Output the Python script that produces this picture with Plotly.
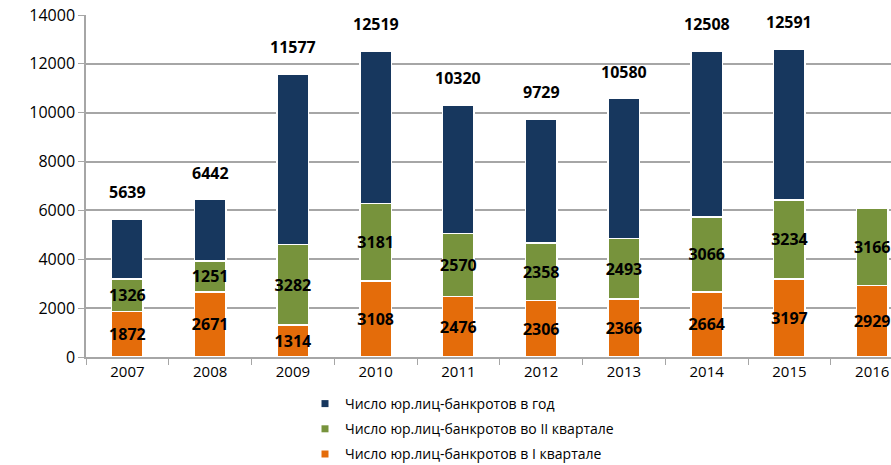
import plotly.graph_objects as go

years = ["2007", "2008", "2009", "2010", "2011", "2012", "2013", "2014", "2015", "2016"]
total_year = [5639, 6442, 11577, 12519, 10320, 9729, 10580, 12508, 12591, None]
q1 = [1872, 2671, 1314, 3108, 2476, 2306, 2366, 2664, 3197, 2929]
q2 = [1326, 1251, 3282, 3181, 2570, 2358, 2493, 3066, 3234, 3166]

names = [
    "Число юр.лиц-банкротов в год",
    "Число юр.лиц-банкротов во II квартале",
    "Число юр.лиц-банкротов в I квартале",
]
colors = ["#17375E", "#77933C", "#E46C0A"]

# остаток года сверх I и II кварталов
rest = [t - a - b if t is not None else None for t, a, b in zip(total_year, q1, q2)]

FONT = "Open Sans"
fig = go.Figure()

bar_line = dict(color="white", width=1.5)
lbl_font = dict(family=FONT, size=16, color="black", weight="bold")

fig.add_trace(go.Bar(x=years, y=q1, marker=dict(color=colors[2], line=bar_line),
                     text=q1, textposition="inside", insidetextanchor="middle", textangle=0,
                     textfont=lbl_font, showlegend=False, hoverinfo="skip"))
fig.add_trace(go.Bar(x=years, y=q2, marker=dict(color=colors[1], line=bar_line),
                     text=q2, textposition="inside", insidetextanchor="middle", textangle=0,
                     textfont=lbl_font, showlegend=False, hoverinfo="skip"))
fig.add_trace(go.Bar(x=years, y=rest, marker=dict(color=colors[0], line=bar_line),
                     showlegend=False, hoverinfo="skip"))

# легенда с маленькими квадратами
for i, (n, c) in enumerate(zip(names, colors)):
    fig.add_trace(go.Scatter(x=[None], y=[None], mode="markers", name=n,
                             legendgroup=str(i),
                             marker=dict(symbol="square", size=7, color=c)))

# подписи итогов над столбцами (x = номер категории)
for i, t in enumerate(total_year):
    if t is None:
        continue
    fig.add_annotation(x=i, y=t, text=str(t), showarrow=False,
                       yanchor="bottom", yshift=14, font=lbl_font)

fig.update_layout(
    width=891, height=465,
    barmode="stack", bargap=0.62,
    paper_bgcolor="white", plot_bgcolor="white",
    margin=dict(l=86, r=0, t=15, b=108, autoexpand=False),
    font=dict(family=FONT, color="black"),
    uniformtext=dict(minsize=16, mode="show"),
    xaxis=dict(type="category", range=[-0.5, 9.227], showline=True,
               linecolor="#A6A6A6", linewidth=1.5,
               ticks="outside", tickson="boundaries", ticklen=6, tickcolor="#A6A6A6",
               tickfont=dict(size=15, color="black"), showgrid=False, tickangle=0,
               automargin=False, ticklabeloverflow="allow"),
    yaxis=dict(range=[0, 14000], dtick=2000, tickformat="d", showline=True,
               linecolor="#A6A6A6", linewidth=1.5,
               ticks="outside", ticklen=6, tickcolor="#A6A6A6",
               gridcolor="#A6A6A6", gridwidth=1.5, zeroline=False,
               tickfont=dict(size=16, color="black"), automargin=False,
               ticklabeloverflow="allow"),
    legend=dict(x=(305 - 86) / 805, y=(357 - 388) / 342,
                xanchor="left", yanchor="top", tracegroupgap=4,
                font=dict(size=14, color="black"), itemwidth=30),
)

# убрать стандартный отступ body, чтобы график занимал окно целиком
fig.write_html("out.html", config={"displayModeBar": False},
               post_script="document.body.style.margin='0';document.body.style.overflow='hidden';")
